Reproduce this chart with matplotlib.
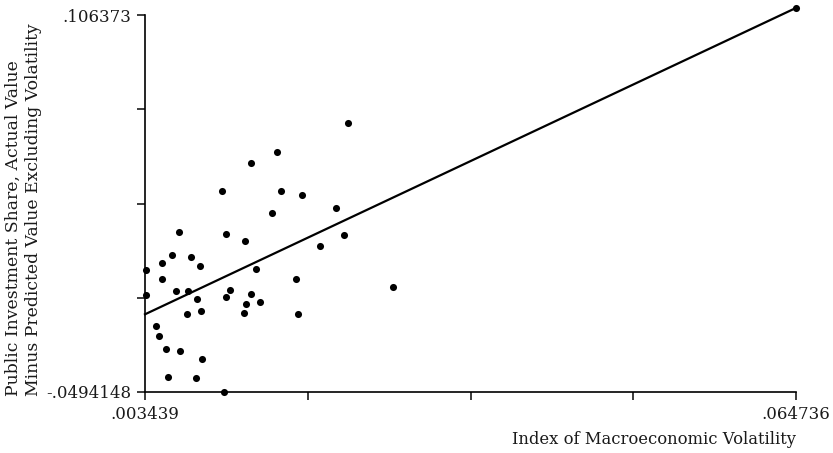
import matplotlib.pyplot as plt

# data (x = volatility index, y = residual public investment share)
vol = [0.003505, 0.003505, 0.004446, 0.004729, 0.005040, 0.005040, 0.005416, 0.005576,
       0.005981, 0.006358, 0.006669, 0.006735, 0.007516, 0.007422, 0.007742, 0.008269,
       0.008363, 0.008589, 0.008712, 0.008834, 0.010689, 0.010906, 0.011038, 0.011066,
       0.011414, 0.012827, 0.012732, 0.012949, 0.013392, 0.013448, 0.013891, 0.014267,
       0.015425, 0.015868, 0.016216, 0.017685, 0.017817, 0.018250, 0.019935, 0.021451,
       0.022158, 0.022581, 0.026762, 0.064736]
resid = [0.000875, -0.009207, -0.022265, -0.026274, 0.004016, -0.002844, -0.031522, -0.043216,
         0.007198, -0.007802, 0.016826, -0.032472, -0.007678, -0.017059, 0.006247, -0.043629,
         -0.010984, 0.002652, -0.015943, -0.035902, 0.033521, -0.049270, 0.016082, -0.010282,
         -0.007141, 0.012983, -0.016893, -0.013174, 0.045339, -0.009042, 0.001289, -0.012100,
         0.024430, 0.049637, 0.033768, -0.002720, -0.017059, 0.032116, 0.010834, 0.026744,
         0.015545, 0.061744, -0.006026, 0.109400]

# fitted line end points
fit_x = [0.003439, 0.064736]
fit_y = [-0.017307, 0.109300]

x_min, x_max = 0.003439, 0.064736
y_min, y_max = -0.0494148, 0.106373
x_ticks = [x_min + i * (x_max - x_min) / 4 for i in range(5)]
y_ticks = [y_min + i * (y_max - y_min) / 4 for i in range(5)]
x_ticklabels = [".003439", "", "", "", ".064736"]
y_ticklabels = ["-.0494148", "", "", "", ".106373"]

plt.rcParams["font.family"] = "DejaVu Serif"

fig = plt.figure(figsize=(8.33, 4.53), dpi=100)
ax = fig.add_axes([145 / 833, 1 - 392 / 453, 651 / 833, 377 / 453])

ax.plot(fit_x, fit_y, "-", color="black", linewidth=1.6, zorder=2, clip_on=False)
ax.scatter(vol, resid, s=26, color="black", zorder=3, clip_on=False, linewidths=0)

ax.set_xlim(x_min, x_max)
ax.set_ylim(y_min, y_max)

for side in ["top", "right"]:
    ax.spines[side].set_visible(False)
ax.spines["left"].set_linewidth(1.2)
ax.spines["bottom"].set_linewidth(1.2)

ax.set_xticks(x_ticks)
ax.set_xticklabels(x_ticklabels)
ax.set_yticks(y_ticks)
ax.set_yticklabels(y_ticklabels)
ax.tick_params(axis="both", direction="out", length=6, width=1.2, labelsize=12,
               pad=4, colors="#1a1a1a")

fig.text(796 / 833, 1 - 440 / 453, "Index of Macroeconomic Volatility",
         ha="right", va="center", fontsize=11.8, color="#1a1a1a")
fig.text(23 / 833, 1 - 396 / 453,
         "Public Investment Share, Actual Value\nMinus Predicted Value Excluding Volatility",
         rotation=90, ha="center", va="bottom", multialignment="left",
         fontsize=12.4, linespacing=1.25, color="#1a1a1a")

fig.savefig("out.png", dpi=100)
